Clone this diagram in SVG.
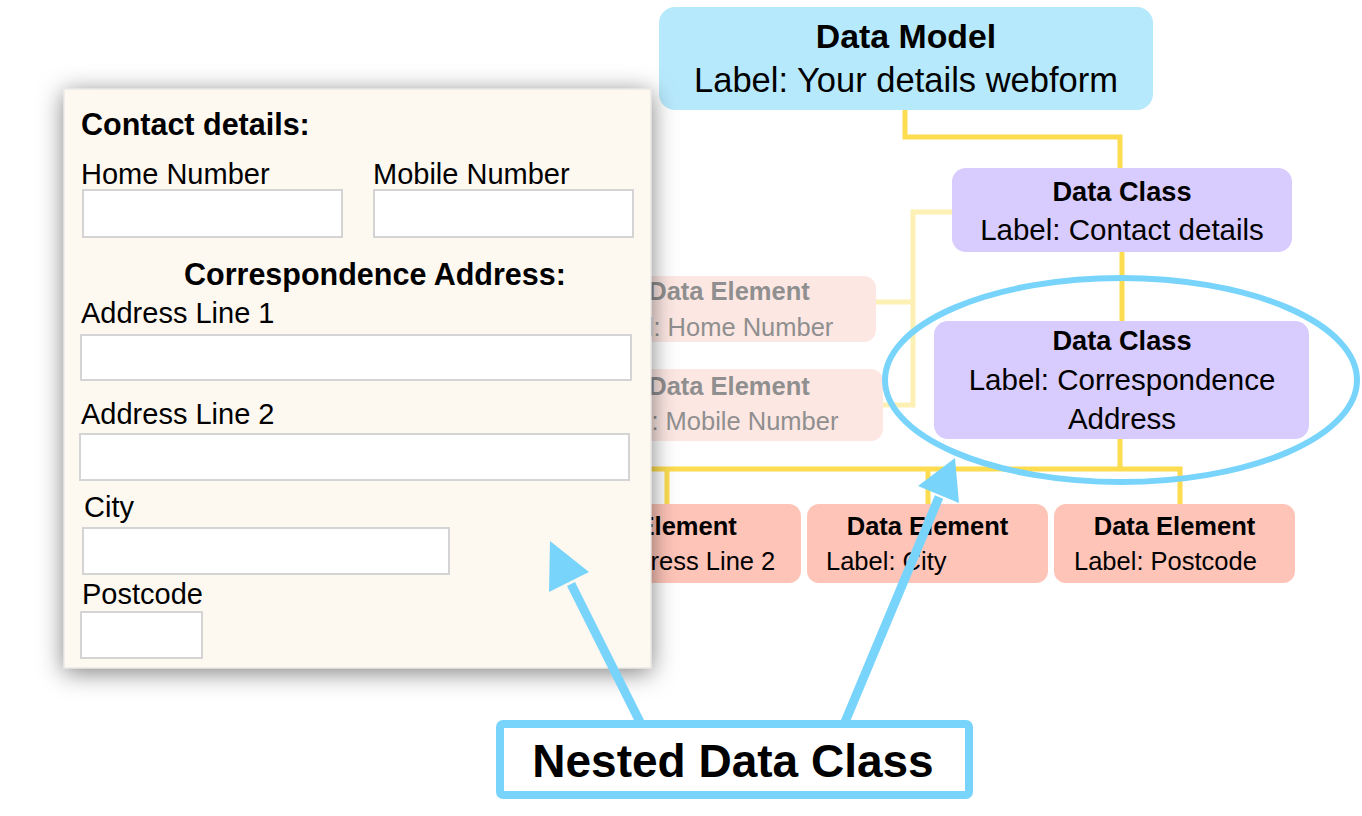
<svg xmlns="http://www.w3.org/2000/svg" width="1362" height="816" viewBox="0 0 1362 816">
<defs>
<style>
text{font-family:"Liberation Sans",Arial,sans-serif;fill:#000}
.b{font-weight:bold}
.c{text-anchor:middle}
.model{fill:#b7e9fc}
.cls{fill:#d8cbfd}
.el{fill:#fec4b8}
.fel{fill:#fde7e3}
.fel-t{fill:#8f8f8f}
.conn{fill:none;stroke:#fddc4f;stroke-width:5;stroke-linejoin:miter}
.fconn{fill:none;stroke:#fdf0b5;stroke-width:5}
.inp{fill:#fff;stroke:#d4d4d4;stroke-width:2}
.ft{font-size:29px}
.fh{font-size:30.5px;font-weight:bold}
.s25{font-size:25.5px}
.s29{font-size:29.5px}
.blue{fill:none;stroke:#79d4fc;stroke-width:6}
.ah{fill:#79d4fc}
.shaft{stroke:#79d4fc;stroke-width:9;fill:none}
</style>
<filter id="sh" x="-10%" y="-10%" width="125%" height="125%">
<feDropShadow dx="0" dy="4" stdDeviation="12" flood-color="#000" flood-opacity="0.5"/>
</filter>
</defs>
<rect width="1362" height="816" fill="#fff"/>

<g id="connectors">
<polyline class="conn" points="905,110 905,137 1120,137 1120,168"/>
<line class="conn" x1="1122" y1="252" x2="1122" y2="321"/>
<polyline class="fconn" points="952,212 913,212 913,405 883,405"/>
<line class="fconn" x1="913" y1="302" x2="876" y2="302"/>
<line class="conn" x1="1120" y1="439" x2="1120" y2="469"/>
<polyline class="conn" points="600,469 1180,469 1180,504"/>
<line class="conn" x1="667" y1="469" x2="667" y2="504"/>
<line class="conn" x1="928" y1="469" x2="928" y2="504"/>
</g>

<g id="data-model">
<rect class="model" x="659" y="7" width="494" height="103" rx="16"/>
<text class="b c" x="906" y="48" font-size="33.8">Data Model</text>
<text class="c" x="906" y="92" font-size="34.5">Label: Your details webform</text>
</g>

<g id="class-contact">
<rect class="cls" x="952" y="168" width="340" height="84" rx="14"/>
<text class="b c" x="1122" y="201" font-size="27.2">Data Class</text>
<text class="c s29" x="1122" y="240">Label: Contact details</text>
</g>

<g id="class-address">
<rect class="cls" x="934" y="321" width="375" height="118" rx="14"/>
<text class="b c" x="1122" y="350" font-size="27.2">Data Class</text>
<text class="c s29" x="1122" y="390">Label: Correspondence</text>
<text class="c s29" x="1122" y="429">Address</text>
</g>

<g id="el-home">
<rect class="fel" x="576" y="276" width="300" height="66" rx="12"/>
<text class="b c s25 fel-t" x="729" y="300">Data Element</text>
<text class="s25 fel-t" x="591" y="336">Label: Home Number</text>
</g>

<g id="el-mobile">
<rect class="fel" x="576" y="369" width="307" height="72" rx="12"/>
<text class="b c s25 fel-t" x="729" y="395">Data Element</text>
<text class="s25 fel-t" x="589" y="430">Label: Mobile Number</text>
</g>

<g id="el-address2">
<rect class="el" x="511" y="504" width="290" height="79" rx="12"/>
<text class="b c s25" x="656" y="535">Data Element</text>
<text class="s25" x="530" y="570">Label: Address Line 2</text>
</g>

<g id="el-city">
<rect class="el" x="807" y="504" width="241" height="79" rx="12"/>
<text class="b c s25" x="927.5" y="535">Data Element</text>
<text class="s25" x="826" y="570">Label: City</text>
</g>

<g id="el-postcode">
<rect class="el" x="1054" y="504" width="241" height="79" rx="12"/>
<text class="b c s25" x="1174.5" y="535">Data Element</text>
<text class="s25" x="1074" y="570">Label: Postcode</text>
</g>

<g id="webform">
<rect x="64" y="89" width="587" height="579" fill="#fdf8f0" stroke="#e2e2e2" stroke-width="1" filter="url(#sh)"/>
<text class="fh" x="81" y="135">Contact details:</text>
<text class="ft" x="81" y="184">Home Number</text>
<text class="ft" x="373" y="184">Mobile Number</text>
<rect class="inp" x="83" y="190" width="259" height="47"/>
<rect class="inp" x="374" y="190" width="259" height="47"/>
<text class="fh" x="184" y="285">Correspondence Address:</text>
<text class="ft" x="81" y="323">Address Line 1</text>
<rect class="inp" x="81" y="335" width="550" height="45"/>
<text class="ft" x="81" y="424">Address Line 2</text>
<rect class="inp" x="80" y="434" width="549" height="46"/>
<text class="ft" x="84" y="517">City</text>
<rect class="inp" x="83" y="528" width="366" height="46"/>
<text class="ft" x="82" y="604">Postcode</text>
<rect class="inp" x="81" y="612" width="121" height="46"/>
</g>

<g id="highlight">
<ellipse class="blue" cx="1121" cy="380" rx="236" ry="102"/>
</g>

<g id="callout">
<line class="shaft" x1="640" y1="722" x2="571" y2="584"/>
<polygon class="ah" points="550,541 549,592 589,572"/>
<line class="shaft" x1="845" y1="722" x2="939" y2="497"/>
<polygon class="ah" points="955,458 918,486 959,503"/>
<rect x="500" y="724" width="469" height="71" rx="3" fill="#fff" stroke="#79d4fc" stroke-width="8"/>
<text class="b c" x="733" y="777" font-size="46">Nested Data Class</text>
</g>
</svg>
